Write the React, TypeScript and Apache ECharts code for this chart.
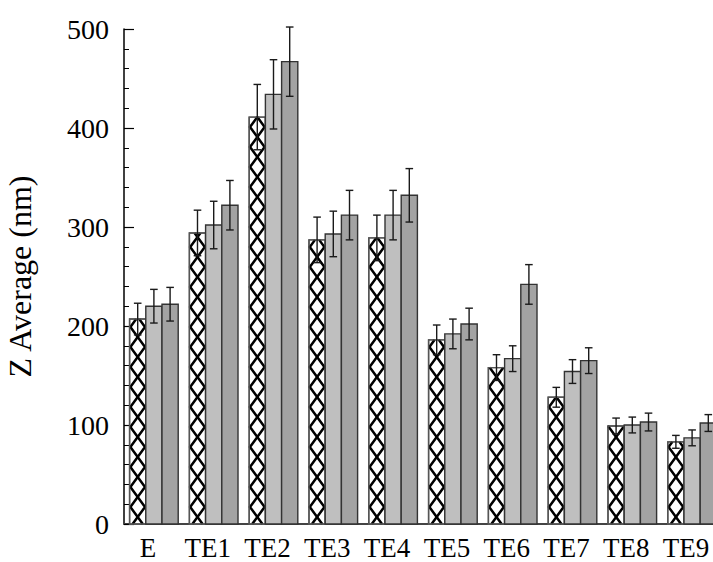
import React, { useEffect, useRef } from "react";
import * as echarts from "echarts";

const categories = ["E", "TE1", "TE2", "TE3", "TE4", "TE5", "TE6", "TE7", "TE8", "TE9"];
const hatchedValues = [207, 294, 411, 287, 289, 186, 158, 128, 99, 83];
const hatchedErrors = [16, 23, 33, 23, 23, 15, 13, 10, 8, 6.5];
const lightValues = [220, 302, 434, 293, 312, 192, 167, 154, 100, 87];
const lightErrors = [17, 24, 35, 23, 25, 15, 13, 12, 8, 8];
const darkValues = [222, 322, 467, 312, 332, 202, 242, 165, 103, 102];
const darkErrors = [17, 25, 35, 25, 27, 16, 20, 13, 9, 8.5];
const yTicks = { min: 0, max: 500, interval: 100 };

const FONT = "Liberation Serif";

function clipPolyline(pts: number[][], yt: number, yb: number): number[][][] {
  const out: number[][][] = [];
  let cur: number[][] = [];
  const inside = (p: number[]) => p[1] >= yt && p[1] <= yb;
  for (let i = 0; i < pts.length - 1; i++) {
    const a = pts[i];
    const b = pts[i + 1];
    const ia = inside(a);
    const ib = inside(b);
    const lerp = (y: number) => {
      const t = (y - a[1]) / (b[1] - a[1]);
      return [a[0] + t * (b[0] - a[0]), y];
    };
    if (ia && ib) {
      if (!cur.length) cur.push(a);
      cur.push(b);
    } else if (ia && !ib) {
      if (!cur.length) cur.push(a);
      const yEdge = b[1] < yt ? yt : yb;
      cur.push(lerp(yEdge));
      out.push(cur);
      cur = [];
    } else if (!ia && ib) {
      const yEdge = a[1] < yt ? yt : yb;
      cur = [lerp(yEdge), b];
    } else {
      if ((a[1] > yb && b[1] < yt) || (a[1] < yt && b[1] > yb)) {
        out.push([lerp(yb), lerp(yt)]);
      }
    }
  }
  if (cur.length > 1) out.push(cur);
  return out;
}

function makeRender(k: number, fill: string, hatched: boolean, border: string) {
  return (params: any, api: any) => {
    const idx = api.value(0);
    const val = api.value(1);
    const err = api.value(2);
    const base = api.coord([idx, 0]);
    const top = api.coord([idx, val]);
    const band = api.size([1, 0])[0];
    const barW = band * 0.271;
    const x0 = base[0] + (k - 1.5) * barW;
    const yb = base[1];
    const yt = top[1];
    const cx = x0 + barW / 2;
    const children: any[] = [];
    children.push({
      type: "rect",
      shape: { x: x0, y: yt, width: barW, height: yb - yt },
      style: { fill, stroke: border, lineWidth: 1.4 },
    });
    if (hatched) {
      const period = 20;
      const inset = 0.8;
      const xl = x0 + inset;
      const xr = x0 + barW - inset;
      const startY = yb + 3;
      const ptsA: number[][] = [];
      const ptsB: number[][] = [];
      let i = 0;
      for (let y = startY + period; y > yt - period * 2; y -= period, i++) {
        ptsA.push([i % 2 === 0 ? xr : xl, y]);
        ptsB.push([i % 2 === 0 ? xl : xr, y]);
      }
      [ptsA, ptsB].forEach((pts) => {
        clipPolyline(pts, yt, yb).forEach((seg) => {
          children.push({
            type: "polyline",
            shape: { points: seg },
            style: { stroke: "#000", lineWidth: 2.5, fill: null },
          });
        });
      });
      children.push({
        type: "rect",
        shape: { x: x0, y: yt, width: barW, height: yb - yt },
        style: { fill: null, stroke: border, lineWidth: 1.4 },
      });
    }
    const eTop = api.coord([idx, val + err])[1];
    const eBot = api.coord([idx, val - err])[1];
    const cap = 3.8;
    children.push({
      type: "line",
      shape: { x1: cx, y1: eTop, x2: cx, y2: eBot },
      style: { stroke: "#1a1a1a", lineWidth: 1.4 },
    });
    children.push({
      type: "line",
      shape: { x1: cx - cap, y1: eTop, x2: cx + cap, y2: eTop },
      style: { stroke: "#1a1a1a", lineWidth: 1.4 },
    });
    children.push({
      type: "line",
      shape: { x1: cx - cap, y1: eBot, x2: cx + cap, y2: eBot },
      style: { stroke: "#1a1a1a", lineWidth: 1.4 },
    });
    return { type: "group", children };
  };
}

export default function App() {
  const ref = useRef<HTMLDivElement>(null);
  useEffect(() => {
    if (!ref.current) return;
    const chart = echarts.init(ref.current, undefined, { renderer: "svg" });
    const mk = (vals: number[], errs: number[]) => vals.map((v, i) => [i, v, errs[i]]);
    chart.setOption({
      animation: false,
      backgroundColor: "#fff",
      grid: {
        left: 124,
        right: -9,
        top: 29,
        bottom: 38,
        containLabel: false,
        outerBoundsMode: "none",
      },
      xAxis: {
        type: "category",
        data: categories,
        boundaryGap: true,
        axisLine: { show: true, lineStyle: { color: "#444", width: 2 } },
        axisTick: { show: false },
        axisLabel: {
          color: "#000",
          fontFamily: FONT,
          fontSize: 27,
          lineHeight: 24,
          margin: 12,
          interval: 0,
          hideOverlap: false,
          padding: [0, 12, 0, 0],
        },
        splitLine: { show: false },
      },
      yAxis: {
        type: "value",
        min: yTicks.min,
        max: yTicks.max,
        interval: yTicks.interval,
        name: "Z Average (nm)",
        nameLocation: "middle",
        nameGap: 88,
        nameTextStyle: { color: "#000", fontFamily: FONT, fontSize: 32 },
        axisLine: { show: true, lineStyle: { color: "#000", width: 1.5 } },
        axisTick: { show: true, inside: true, length: 10, lineStyle: { color: "#000", width: 1.2 } },
        minorTick: { show: true, splitNumber: 5, length: 5, lineStyle: { color: "#000", width: 1 } },
        axisLabel: { color: "#000", fontFamily: FONT, fontSize: 28, margin: 15 },
        splitLine: { show: false },
        minorSplitLine: { show: false },
      },
      series: [
        {
          type: "custom",
          renderItem: makeRender(0, "#fff", true, "#555"),
          data: mk(hatchedValues, hatchedErrors),
          encode: { x: 0, y: 1 },
        },
        {
          type: "custom",
          renderItem: makeRender(1, "#bfbfbf", false, "#333"),
          data: mk(lightValues, lightErrors),
          encode: { x: 0, y: 1 },
        },
        {
          type: "custom",
          renderItem: makeRender(2, "#a3a3a3", false, "#333"),
          data: mk(darkValues, darkErrors),
          encode: { x: 0, y: 1 },
        },
      ],
    });
    return () => chart.dispose();
  }, []);
  return (
    <div
      ref={ref}
      style={{ position: "absolute", left: 0, top: 0, width: 713, height: 562 }}
    />
  );
}
